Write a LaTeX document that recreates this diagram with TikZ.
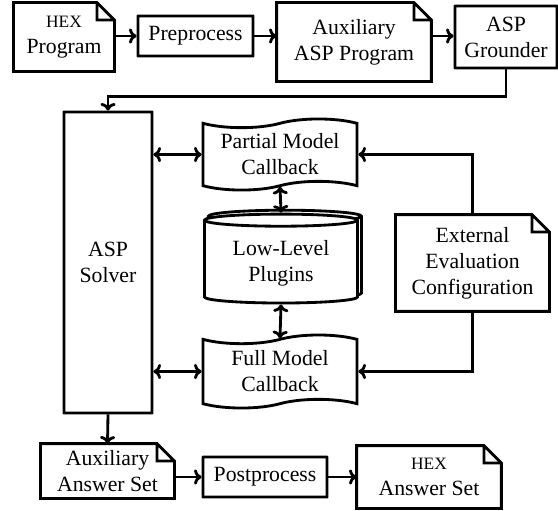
\documentclass[tikz,border=0pt]{standalone}
\usepackage{fontspec}
\setmainfont{Liberation Serif}
\usetikzlibrary{arrows.meta, shapes.geometric, shapes.symbols, shadows}

\newcommand{\hex}{{\footnotesize HEX}}
% folded document outline around a named node
\newcommand{\docfold}[1]{%
  \draw[line join=miter]
    (#1.south west) -- (#1.north west) -- ([xshift=-8pt]#1.north east)
    -- ([yshift=-8pt]#1.north east) -- (#1.south east) -- cycle
    ([xshift=-8pt]#1.north east) |- ([yshift=-8pt]#1.north east);}

\begin{document}
\begin{tikzpicture}[
  x=0.46pt, y=-0.46pt, line width=1.3pt,
  every node/.style = {align=center, inner sep=1pt},
  block/.style = {draw, rectangle, rounded corners=0.1pt},
  doc/.style = {rectangle},
  callback/.style = {draw, tape, tape bend height=4pt},
  plugin/.style = {draw, fill=white, cylinder, shape border rotate=90, aspect=0.12,
                   copy shadow={shadow xshift=1.8pt, shadow yshift=1.8pt}},
  arrow/.style = {-{To[length=3.5pt,width=7pt]}},
  biarrow/.style = {{To[length=3.5pt,width=7pt]}-{To[length=3.5pt,width=7pt]}}
]
  \useasboundingbox (0,0) rectangle (558,510);

  % Grounding row
  \node[doc, minimum width=45.1pt, minimum height=30.4pt] (hexprog) at (64,37) {\hex\\Program};
  \node[block, minimum width=52.9pt, minimum height=18.4pt] (prep) at (195.5,36) {Preprocess};
  \node[doc, minimum width=69.9pt, minimum height=35pt] (auxprog) at (354,42) {Auxiliary\\ASP Program};
  \node[block, minimum width=46.9pt, minimum height=28.5pt] (grounder) at (506,37) {ASP\\Grounder};
  \docfold{hexprog}
  \docfold{auxprog}

  % Solving
  \node[block, minimum width=40.5pt, minimum height=138.5pt] (solver) at (108,262.5) {ASP\\Solver};
  \node[callback, minimum width=70.8pt, minimum height=32.7pt] (partial) at (280,154.5) {Partial Model\\Callback};
  \node[plugin, minimum width=70.4pt, minimum height=40.9pt] (plugins) at (281,263) {Low-Level\\Plugins};
  \node[callback, minimum width=70.8pt, minimum height=33.6pt] (full) at (280,371.5) {Full Model\\Callback};
  \node[doc, minimum width=69.5pt, minimum height=43.2pt] (ext) at (472.5,263) {External\\Evaluation\\Configuration};
  \docfold{ext}

  % Output row
  \node[doc, minimum width=60.3pt, minimum height=23.9pt] (auxans) at (107.5,471) {Auxiliary\\Answer Set};
  \node[block, minimum width=57pt, minimum height=18.4pt] (post) at (265,477) {Postprocess};
  \node[doc, minimum width=65.3pt, minimum height=27.6pt] (hexans) at (429,477) {\hex\\Answer Set};
  \docfold{auxans}
  \docfold{hexans}

  % Connectors
  \draw[arrow] (hexprog.east |- prep) -- (prep.west);
  \draw[arrow] (prep.east) -- (prep.east -| auxprog.west);
  \draw[arrow] (prep.east -| auxprog.east) -- (prep.east -| grounder.west);
  \draw[arrow] (grounder.south) -- ++(0,27) -| (solver.north);
  \draw[biarrow] (solver.east |- partial.west) -- (partial.west);
  \draw[biarrow] (solver.east |- full.west) -- (full.west);
  \draw[biarrow] (partial.south) -- (plugins.north);
  \draw[biarrow] (plugins.south) -- (full.north);
  \draw[arrow] (ext.north) |- (partial.east);
  \draw[arrow] (ext.south) |- (full.east);
  \draw[arrow] (solver.south) -- (auxans.north);
  \draw[arrow] (auxans.east |- post) -- (post.west);
  \draw[arrow] (post.east) -- (hexans.west);

\end{tikzpicture}
\end{document}
